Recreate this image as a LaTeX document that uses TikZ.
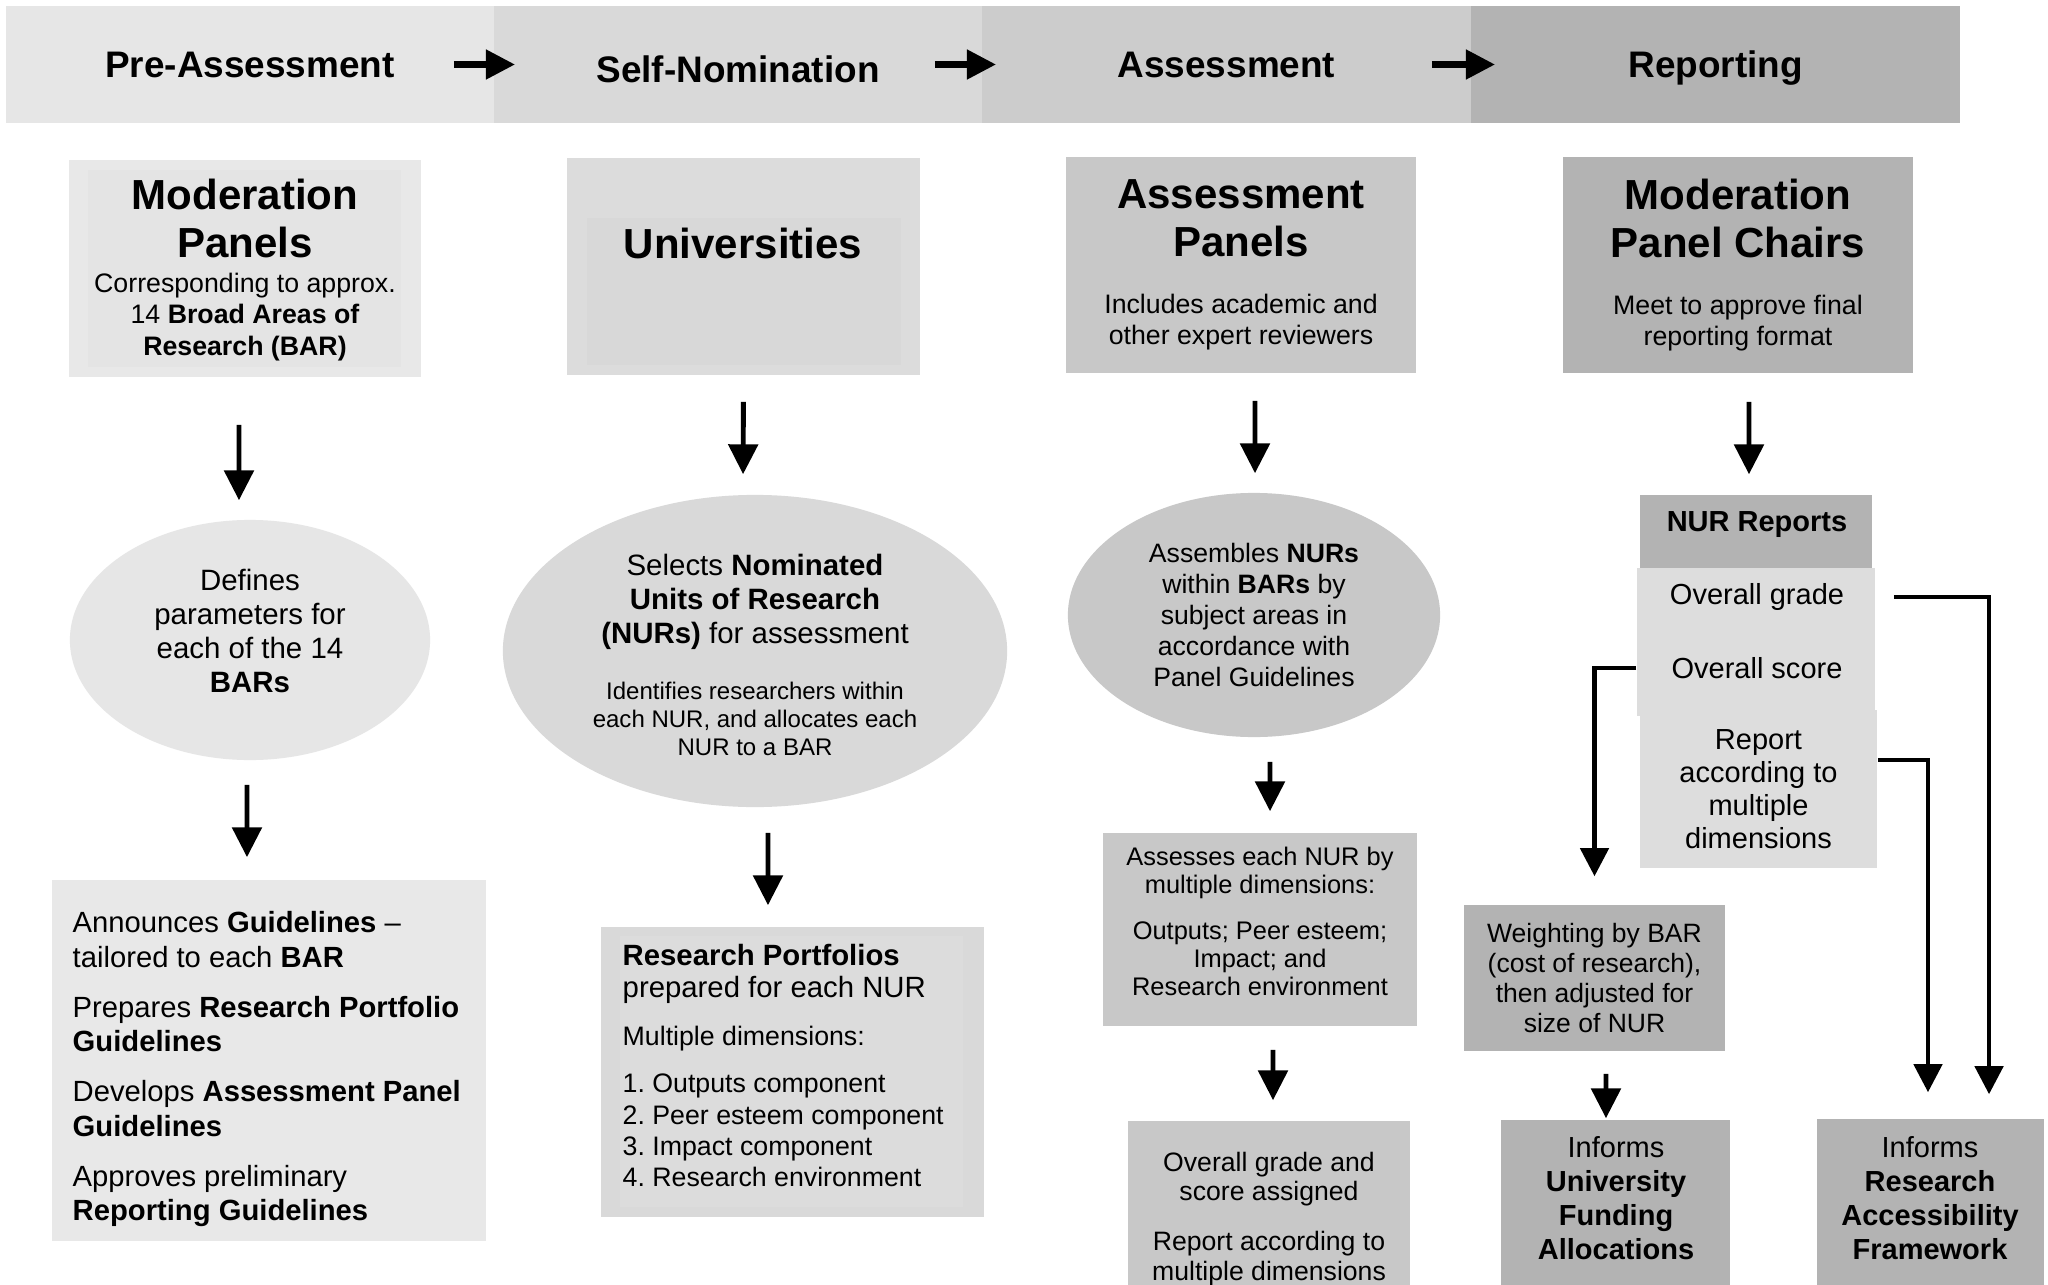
\documentclass[tikz,border=0pt]{standalone}
\usepackage{fontspec}
\setmainfont{Liberation Sans}
\usetikzlibrary{arrows.meta,shapes.geometric}
\definecolor{hdA}{HTML}{E6E6E6}
\definecolor{hdB}{HTML}{D9D9D9}
\definecolor{hdC}{HTML}{CCCCCC}
\definecolor{hdD}{HTML}{B3B3B3}
\definecolor{boxA}{HTML}{E8E8E8}
\definecolor{boxAin}{HTML}{E4E4E4}
\definecolor{boxB}{HTML}{DCDCDC}
\definecolor{boxBin}{HTML}{D8D8D8}
\definecolor{boxC}{HTML}{C8C8C8}
\definecolor{boxD}{HTML}{B3B3B3}
\definecolor{boxE}{HTML}{DDDDDD}
\newcommand{\fttl}{\fontsize{11.95}{13.66}\selectfont\bfseries}
\newcommand{\fsub}{\fontsize{7.6}{8.9}\selectfont}
\frenchspacing

\begin{document}
\begin{tikzpicture}[x=0.01cm, y=-0.01cm,
	box/.style={rectangle, inner sep=0pt},
	sz/.style 2 args={minimum width=#1cm, minimum height=#2cm},
	oval/.style={ellipse, inner sep=0pt, align=flush center},
	txt/.style={inner sep=0pt, align=flush center},
	hd/.style={box, font=\fontsize{10.5}{12}\selectfont\bfseries, text height=7.6pt, text depth=0pt},
	harr/.style={line width=2pt, -{Triangle[length=8.3pt, width=8pt]}},
	arr/.style={line width=1.4pt, -{Triangle[length=8.5pt, width=8.3pt]}},
	conn/.style={line width=1.3pt, -{Triangle[length=8pt, width=8pt]}}]

	\fill
		[white] (0,0) rectangle (2048,1285);
	\useasboundingbox (0,0) rectangle (2048,1285);

	\node (h1) [hd, fill=hdA, sz={4.88}{1.17}] at (250,64.5) {Pre-Assessment};
	\node (h2) [hd, fill=hdB, sz={4.88}{1.17}] at (738,64.5) {\raisebox{-1.4pt}{Self-Nomination}};
	\node (h3) [hd, fill=hdC, sz={4.89}{1.17}] at (1226.5,64.5) {Assessment};
	\node (h4) [hd, fill=hdD, sz={4.89}{1.17}] at (1715.5,64.5) {Reporting};

	\draw
		[harr] ([xshift=-0.41cm]h1.east) -- ([xshift=0.22cm]h2.west);
	\draw
		[harr] ([xshift=-0.48cm]h2.east) -- ([xshift=0.15cm]h3.west);
	\draw
		[harr] ([xshift=-0.40cm]h3.east) -- ([xshift=0.25cm]h4.west);

	\node (mp) [box, fill=boxA, sz={3.52}{2.17}] at (245,268.5) {};
	\node (mpi) [box, fill=boxAin, sz={3.13}{1.97}] at (244.5,268.5) {};
	\node (mpt) [txt, text width=3.3cm] at (245,270)
		{{\fttl Moderation\\Panels\par}\vspace{1pt}{\fsub Corresponding to approx.\\14 \textbf{Broad Areas of}\\\textbf{Research (BAR)}\par}};

	\node (uni) [box, fill=boxB, sz={3.53}{2.17}] at (743.5,266.5) {};
	\node (unii) [box, fill=boxBin, sz={3.14}{1.47}] at (744,291.5) {};
	\node (unit) [txt, font=\fttl] at (743,243) {Universities};

	\node (ap) [box, fill=boxC, sz={3.5}{2.16}, text width=3.3cm, align=flush center] at (1241,265)
		{{\fttl Assessment\\Panels\par}\vspace{7.2pt}{\fsub Includes academic and\\other expert reviewers\par}};

	\node (mc) [box, fill=boxD, sz={3.5}{2.16}, text width=3.3cm, align=flush center] at (1738,265)
		{{\fttl Moderation\\Panel Chairs\par}\vspace{7.2pt}{\fsub Meet to approve final\\reporting format\par}};

	\node (e1) [oval, fill=hdA, sz={3.6}{2.4}] at (250,640) {};
	\node (e1t) [txt, font=\fontsize{8.37}{9.67}\selectfont] at (250,631)
		{Defines\\parameters for\\each of the 14\\\textbf{BARs}};
	\node (e2) [oval, fill=hdB, sz={5.04}{3.12}] at (755,651) {};
	\node (e2t) [txt, text width=3.5cm] at (755,655)
		{{\fontsize{8.37}{9.67}\selectfont Selects \textbf{Nominated}\\\textbf{Units of Research}\\\textbf{(NURs)} for assessment\par}\vspace{8pt}{\fontsize{6.83}{7.97}\selectfont Identifies researchers within\\each NUR, and allocates each\\NUR to a BAR\par}};
	\node (e3) [oval, fill=boxC, sz={3.72}{2.44}, font=\fontsize{7.57}{8.82}\selectfont] at (1254,615)
		{Assembles \textbf{NURs}\\within \textbf{BARs} by\\subject areas in\\accordance with\\Panel Guidelines};

	\node (ann) [box, fill=boxA, sz={4.34}{3.61}] at (269,1060.5) {};
	\node (annt) [inner sep=0pt, anchor=north west, text width=4.1cm, align=flush left, font=\fontsize{8.31}{9.8}\selectfont] at (72,911)
		{Announces \textbf{Guidelines} –\\tailored to each \textbf{BAR}\par\vspace{4.4pt}
		Prepares \textbf{Research Portfolio}\\\textbf{Guidelines}\par\vspace{4.4pt}
		Develops \textbf{Assessment Panel}\\\textbf{Guidelines}\par\vspace{4.4pt}
		Approves preliminary\\\textbf{Reporting Guidelines}};

	\node (rp) [box, fill=hdB, sz={3.83}{2.90}] at (792.5,1072) {};
	\node (rpi) [box, fill=boxB, sz={3.43}{2.71}] at (791.5,1071.5) {};
	\node (rpt) [inner sep=0pt, anchor=north west, text width=3.5cm, align=flush left] at (622,944)
		{{\fontsize{8.34}{9.1}\selectfont\textbf{Research Portfolios}\\prepared for each NUR\par}\vspace{4.6pt}{\fsub Multiple dimensions:\par\vspace{4.6pt}1. Outputs component\\2. Peer esteem component\\3. Impact component\\4. Research environment\par}};

	\node (as) [box, fill=boxC, sz={3.14}{1.93}] at (1260,929.5) {};
	\node (ast) [txt, text width=3.1cm] at (1260,921.5)
		{{\fontsize{7.23}{8}\selectfont Assesses each NUR by\\multiple dimensions:\par\vspace{5.1pt}Outputs; Peer esteem;\\Impact; and\\Research environment\par}};

	\node (og) [box, fill=boxC, sz={2.82}{1.64}] at (1269,1203) {};
	\node (ogt) [txt, anchor=north, font=\fontsize{7.57}{8.5}\selectfont] at (1269,1151)
		{Overall grade and\\score assigned\\[5.5pt]Report according to\\multiple dimensions};

	\node (nr) [box, fill=boxD, sz={2.32}{0.73}] at (1756,531.5) {};
	\node (nrt) [txt, font=\fontsize{8.25}{9.4}\selectfont\bfseries] at (1757,525) {NUR Reports};
	\node (ogs) [box, fill=boxE, sz={2.38}{1.48}] at (1756,642) {};
	\node (g1) [txt, font=\fontsize{8.25}{9.4}\selectfont] at (1757,597) {Overall grade};
	\node (g2) [txt, font=\fontsize{8.25}{9.4}\selectfont] at (1757,668) {Overall score};
	\node (rm) [box, fill=boxE, sz={2.37}{1.58}, align=flush center, font=\fontsize{8.25}{9.4}\selectfont] at (1758.5,789)
		{Report\\according to\\multiple\\dimensions};

	\node (wt) [box, fill=boxD, sz={2.61}{1.46}, align=flush center, font=\fontsize{7.54}{8.54}\selectfont] at (1594.5,978)
		{Weighting by BAR\\(cost of research),\\then adjusted for\\size of NUR};

	\node (ufa) [box, fill=boxD, sz={2.29}{1.65}] at (1615.5,1202.5) {};
	\node (ufat) [txt, anchor=north, font=\fontsize{8.25}{9.67}\selectfont] at (1616,1136)
		{Informs\\\textbf{University}\\\textbf{Funding}\\\textbf{Allocations}};
	\node (raf) [box, fill=boxD, sz={2.27}{1.66}] at (1930.5,1202) {};
	\node (raft) [txt, anchor=north, font=\fontsize{8.25}{9.67}\selectfont] at (1930,1136)
		{Informs\\\textbf{Research}\\\textbf{Accessibility}\\\textbf{Framework}};

	\draw
		[arr, shorten <=0.47cm, shorten >=0.19cm] ([xshift=-0.06cm]mp.south) -- ([xshift=-0.11cm]e1.north);
	\draw
		[arr, shorten <=0.24cm, shorten >=0.22cm] ([xshift=-0.03cm]e1.south) -- ([xshift=-0.22cm]ann.north);
	\draw
		[arr, shorten <=0.26cm, shorten >=0.20cm] (uni.south) -- ([xshift=-0.12cm]e2.north);
	\draw
		[arr, shorten <=0.25cm, shorten >=0.21cm] ([xshift=0.13cm]e2.south) -- ([xshift=-0.245cm]rp.north);
	\draw
		[arr, shorten <=0.27cm, shorten >=0.19cm] ([xshift=0.14cm]ap.south) -- ([xshift=0.01cm]e3.north);
	\draw
		[arr, shorten <=0.24cm, shorten >=0.21cm] ([xshift=0.16cm]e3.south) -- ([xshift=0.10cm]as.north);
	\draw
		[arr, shorten <=0.23cm, shorten >=0.20cm] ([xshift=0.13cm]as.south) -- ([xshift=0.04cm]og.north);
	\draw
		[arr, shorten <=0.28cm, shorten >=0.20cm] ([xshift=0.11cm]mc.south) -- ([xshift=-0.07cm]nr.north);
	\draw
		[arr, shorten <=0.22cm, shorten >=0.01cm] ([xshift=0.115cm]wt.south) -- ([xshift=-0.095cm]ufa.north);

	\draw
		[conn, shorten <=0.18cm, shorten >=0.24cm] (ogs.east |- g1) -| ([xshift=0.585cm]raf.north);
	\draw
		[conn, shorten >=0.26cm] ([yshift=0.29cm]rm.east) -| ([xshift=-0.025cm]raf.north);
	\draw
		[conn, shorten >=0.28cm] (ogs.west |- g2) -| (wt.north);
\end{tikzpicture}
\end{document}
